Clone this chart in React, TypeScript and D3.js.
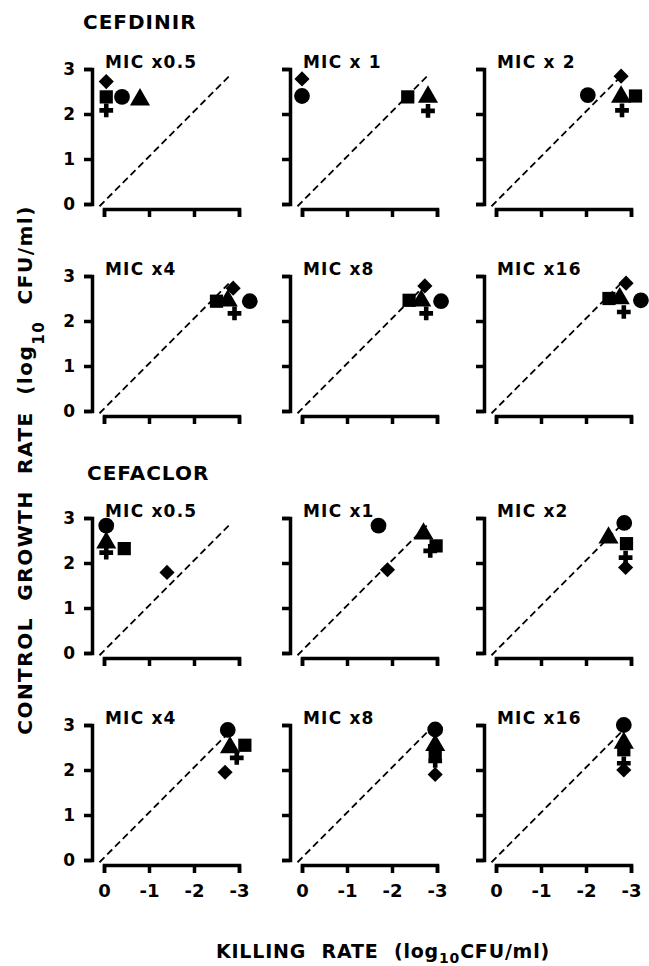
import React, { useEffect, useRef } from 'react';
import * as d3 from 'd3';

const drugs = ['CEFDINIR', 'CEFACLOR'];
const cefdinirMics = ['MIC x0.5', 'MIC x 1', 'MIC x 2', 'MIC x4', 'MIC x8', 'MIC x16'];
const cefaclorMics = ['MIC x0.5', 'MIC x1', 'MIC x2', 'MIC x4', 'MIC x8', 'MIC x16'];
const strains = ['diamond', 'circle', 'square', 'triangle', 'cross'];

// killing rate (x) and control growth rate (y), one row per MIC panel, columns follow strains
const cefdinirKilling = [
  [-0.05, -0.4, -0.05, -0.8, -0.05],
  [0, 0, -2.35, -2.8, -2.8],
  [-2.78, -2.04, -3.1, -2.78, -2.8],
  [-2.87, -3.24, -2.5, -2.75, -2.9],
  [-2.73, -3.09, -2.38, -2.65, -2.76],
  [-2.89, -3.22, -2.51, -2.75, -2.84],
];
const cefdinirGrowth = [
  [2.72, 2.38, 2.38, 2.32, 2.08],
  [2.78, 2.4, 2.38, 2.38, 2.07],
  [2.84, 2.42, 2.4, 2.38, 2.08],
  [2.73, 2.44, 2.44, 2.45, 2.17],
  [2.78, 2.44, 2.46, 2.45, 2.17],
  [2.84, 2.46, 2.5, 2.5, 2.2],
];
const cefaclorKilling = [
  [-1.4, -0.05, -0.45, -0.05, -0.05],
  [-1.9, -1.7, -2.98, -2.7, -2.85],
  [-2.88, -2.85, -2.9, -2.5, -2.88],
  [-2.69, -2.75, -3.13, -2.8, -2.95],
  [-2.96, -2.96, -2.96, -2.96, -2.96],
  [-2.84, -2.84, -2.84, -2.84, -2.84],
];
const cefaclorGrowth = [
  [1.79, 2.83, 2.32, 2.45, 2.23],
  [1.85, 2.83, 2.38, 2.65, 2.27],
  [1.9, 2.89, 2.43, 2.56, 2.12],
  [1.95, 2.89, 2.55, 2.5, 2.27],
  [1.9, 2.9, 2.39, 2.55, 2.2],
  [2.0, 3.0, 2.45, 2.6, 2.15],
];

const xTicks = [0, -1, -2, -3];
const xTickLabels = ['0', '-1', '-2', '-3'];
const yTicks = [0, 1, 2, 3];
const diagonal = [[0.1, -0.05], [-2.82, 2.88]];

const FONT = "'DejaVu Sans', sans-serif";

const App = () => {
  const svgRef = useRef<SVGSVGElement>(null);

  useEffect(() => {
    const svg = d3.select(svgRef.current);
    svg.selectAll('*').remove();

    const colX = [92, 290, 484];
    const rowY0 = [204, 411, 653, 860];

    const symbols: Record<string, any> = {
      circle: d3.symbol(d3.symbolCircle, 195)(),
      square: d3.symbol(d3.symbolSquare, 175)(),
      diamond: d3.symbol(d3.symbolSquare, 115)(),
      triangle: d3.symbol(d3.symbolTriangle, 175)(),
      cross: d3.symbol(d3.symbolCross, 105)(),
    };

    const panels: any[] = [];
    [0, 1].forEach(di => {
      const kill = di === 0 ? cefdinirKilling : cefaclorKilling;
      const grow = di === 0 ? cefdinirGrowth : cefaclorGrowth;
      const mics = di === 0 ? cefdinirMics : cefaclorMics;
      mics.forEach((m, i) => {
        panels.push({
          label: m,
          row: di * 2 + Math.floor(i / 3),
          col: i % 3,
          points: strains.map((s, k) => ({ shape: s, x: kill[i][k], y: grow[i][k] })),
        });
      });
    });

    panels.forEach(p => {
      const ax = colX[p.col];
      const y0 = rowY0[p.row];
      const xScale = d3.scaleLinear().domain([0, -3]).range([ax + 12, ax + 147]);
      const yScale = d3.scaleLinear().domain([0, 3]).range([y0, y0 - 135]);

      const g = svg.append('g');

      // y axis
      const yAxis = d3.axisLeft(yScale).tickValues(yTicks).tickSize(8).tickPadding(9)
        .tickFormat(d => (p.col === 0 ? String(d) : ''));
      const gy = g.append('g').attr('transform', `translate(${ax},0)`).call(yAxis);

      // x axis
      const xAxis = d3.axisBottom(xScale).tickValues(xTicks).tickSize(8).tickPadding(11)
        .tickFormat((d, i) => (p.row === 3 ? xTickLabels[i] : ''));
      const gx = g.append('g').attr('transform', `translate(0,${y0 + 5})`).call(xAxis);

      [gy, gx].forEach(a => {
        a.attr('font-family', FONT).attr('font-weight', 'bold');
        a.selectAll('path, line').attr('stroke', '#000').attr('stroke-width', 3.5);
        a.selectAll('text').attr('fill', '#000');
      });
      gy.attr('font-size', 17);
      gx.attr('font-size', 18);

      // identity line
      g.append('line')
        .attr('x1', xScale(diagonal[0][0]))
        .attr('y1', yScale(diagonal[0][1]))
        .attr('x2', xScale(diagonal[1][0]))
        .attr('y2', yScale(diagonal[1][1]))
        .attr('stroke', '#000')
        .attr('stroke-width', 1.8)
        .attr('stroke-dasharray', '7,4');

      // panel title
      g.append('text')
        .attr('x', ax + 13)
        .attr('y', y0 - 136)
        .attr('font-family', FONT)
        .attr('font-weight', 'bold')
        .attr('font-size', 17)
        .attr('letter-spacing', 1.2)
        .text(p.label);

      // markers
      g.selectAll('path.pt')
        .data(p.points)
        .enter().append('path')
        .attr('class', 'pt')
        .attr('d', (d: any) => symbols[d.shape])
        .attr('transform', (d: any) =>
          `translate(${xScale(d.x)},${yScale(d.y)})${d.shape === 'diamond' ? ' rotate(45)' : ''}`)
        .attr('fill', '#000');
    });

    // drug titles
    svg.append('text')
      .attr('x', 83).attr('y', 29)
      .attr('font-family', FONT).attr('font-weight', 'bold').attr('font-size', 20)
      .attr('letter-spacing', 1)
      .text(drugs[0]);
    svg.append('text')
      .attr('x', 87).attr('y', 480)
      .attr('font-family', FONT).attr('font-weight', 'bold').attr('font-size', 20)
      .attr('letter-spacing', 1)
      .text(drugs[1]);

    // y axis title
    const yt = svg.append('text')
      .attr('transform', 'translate(32,470) rotate(-90)')
      .attr('text-anchor', 'middle')
      .attr('font-family', FONT).attr('font-weight', 'bold').attr('font-size', 20)
      .attr('letter-spacing', 1.5)
      .attr('word-spacing', 8);
    yt.append('tspan').text('CONTROL GROWTH RATE (log');
    yt.append('tspan').attr('dy', 12).attr('font-size', 15).text('10');
    yt.append('tspan').attr('dy', -12).text(' CFU/ml)');

    // x axis title
    const xt = svg.append('text')
      .attr('x', 383).attr('y', 958)
      .attr('text-anchor', 'middle')
      .attr('font-family', FONT).attr('font-weight', 'bold').attr('font-size', 19)
      .attr('letter-spacing', 0.8)
      .attr('word-spacing', 8);
    xt.append('tspan').text('KILLING RATE (log');
    xt.append('tspan').attr('dy', 5).attr('font-size', 14).text('10');
    xt.append('tspan').attr('dy', -5).text('CFU/ml)');
  }, []);

  return (
    <svg ref={svgRef} width={649} height={966}
      style={{ position: 'absolute', left: 0, top: 0, background: '#fff' }} />
  );
};

export default App;
